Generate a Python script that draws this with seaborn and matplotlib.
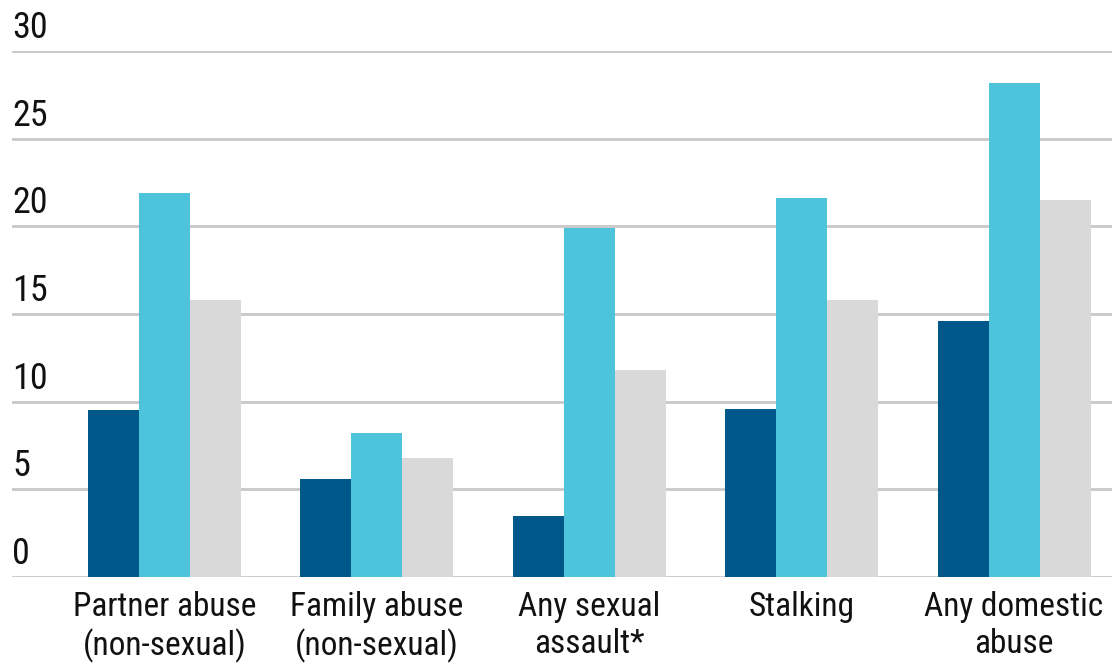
import pandas as pd
import seaborn as sns
import matplotlib.pyplot as plt

categories = ["Partner abuse\n(non-sexual)", "Family abuse\n(non-sexual)", "Any sexual\nassault*",
              "Stalking", "Any domestic\nabuse"]
series_a = [9.5, 5.6, 3.5, 9.6, 14.6]
series_b = [21.9, 8.2, 19.9, 21.6, 28.2]
series_c = [15.8, 6.8, 11.8, 15.8, 21.5]
y_ticks = [0, 5, 10, 15, 20, 25, 30]

colors = ["#00588a", "#4dc4dc", "#d9d9d9"]

rows = []
for name, vals in zip(["a", "b", "c"], [series_a, series_b, series_c]):
    for cat, v in zip(categories, vals):
        rows.append({"category": cat, "series": name, "value": v})
df = pd.DataFrame(rows)

sns.set_theme(style="white")
plt.rcParams['font.family'] = ['Roboto Condensed', 'Liberation Sans Narrow', 'Lato', 'DejaVu Sans']

fig = plt.figure(figsize=(11.12, 6.7), dpi=100)
ax = fig.add_axes([12 / 1112, 93 / 670, 1 - 12 / 1112, 526 / 670])

sns.barplot(data=df, x="category", y="value", hue="series", palette=colors, saturation=1,
            width=0.72, linewidth=0, edgecolor="none", legend=False, ax=ax, zorder=3)

ax.set_ylim(0, 30)
ax.set_xlim(-0.717, 4.461)
ax.set_yticks(y_ticks)
ax.yaxis.grid(True, color="#c8c8c8", linewidth=2, zorder=0)
ax.set_axisbelow(True)
ax.tick_params(axis="y", length=0, labelleft=False)
ax.tick_params(axis="x", length=0, labelsize=24, pad=10, colors="#111111")
ax.set_xlabel("")
ax.set_ylabel("")
for s in ax.spines.values():
    s.set_visible(False)

for t in y_ticks:
    ax.annotate(str(t), xy=(0, t), xycoords=ax.get_yaxis_transform(),
                xytext=(0, 9.4), textcoords="offset points",
                ha="left", va="baseline", fontsize=26, color="#111111")

fig.savefig("out.png", dpi=100)
